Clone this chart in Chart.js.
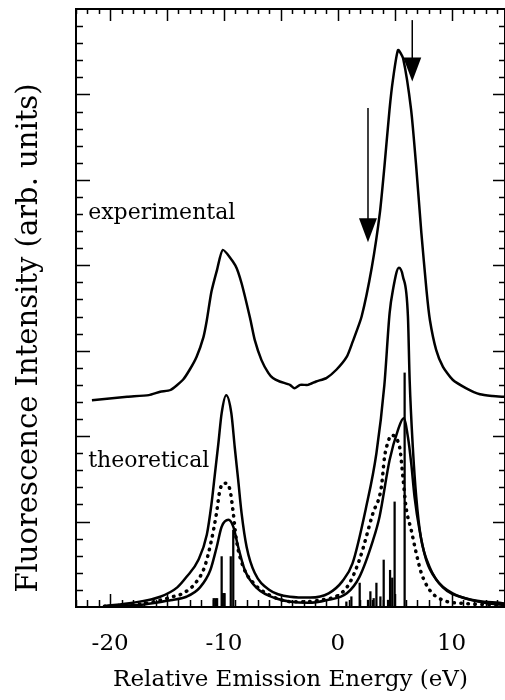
<!DOCTYPE html>
<html>
<head>
<meta charset="utf-8">
<script src="https://cdn.jsdelivr.net/npm/chart.js@4.4.1/dist/chart.umd.min.js"></script>
<style>
  html, body { margin: 0; padding: 0; background: #fff; }
</style>
</head>
<body>
<canvas id="spectrum" width="505" height="700"></canvas>
<script>
// energies in eV, intensities in arbitrary units
const experimental = [
  [-21.6, 2.42], [-18.5, 2.46], [-16.6, 2.48], [-15.6, 2.52], [-14.7, 2.54], [-13.6, 2.66],
  [-13.0, 2.78], [-12.4, 2.93], [-11.8, 3.16], [-11.5, 3.36], [-11.1, 3.69], [-10.6, 3.95],
  [-10.1, 4.18], [-9.0, 4.0], [-8.45, 3.79], [-7.7, 3.38], [-7.3, 3.13], [-6.7, 2.89],
  [-6.1, 2.74], [-5.7, 2.68], [-5.1, 2.64], [-4.2, 2.6], [-3.8, 2.56], [-3.3, 2.6],
  [-2.6, 2.6], [-1.9, 2.64], [-1.0, 2.68], [-0.1, 2.78], [0.8, 2.93], [1.3, 3.1],
  [2.1, 3.4], [3.0, 3.98], [3.7, 4.61], [4.1, 5.15], [4.55, 5.82], [4.85, 6.17],
  [5.3, 6.52], [5.75, 6.42], [6.45, 5.82], [6.9, 5.15], [7.35, 4.38], [7.8, 3.71],
  [8.1, 3.36], [8.65, 3.01], [9.25, 2.81], [10.1, 2.66], [11.3, 2.56], [12.5, 2.49],
  [13.6, 2.47], [14.7, 2.46]
];

const theoryBroad = [
  [-20.5, 0.01], [-18, 0.05], [-15.6, 0.12], [-14.1, 0.23], [-13.3, 0.35], [-12.25, 0.55],
  [-11.5, 0.85], [-11.1, 1.2], [-10.8, 1.55], [-10.5, 1.9], [-10.2, 2.27], [-9.8, 2.48],
  [-9.35, 2.27], [-9.05, 1.87], [-8.75, 1.49], [-8.45, 1.1], [-8.0, 0.7], [-7.3, 0.4],
  [-6.0, 0.2], [-4.2, 0.12], [-2.4, 0.11], [-0.8, 0.16], [0.4, 0.3], [1.3, 0.51],
  [2.5, 1.17], [3.4, 1.8], [4.1, 2.6], [4.56, 3.44], [4.85, 3.71], [5.38, 3.97],
  [5.73, 3.87], [6.17, 3.4], [6.32, 2.66], [6.6, 1.87], [6.9, 1.29], [7.3, 0.82],
  [8.07, 0.47], [9.24, 0.23], [11.3, 0.1], [14.7, 0.04]
];

const theoryDotted = [
  [-20.5, 0.01], [-17, 0.04], [-15.6, 0.08], [-14.5, 0.12], [-13.6, 0.16], [-12.5, 0.28],
  [-11.7, 0.47], [-11.1, 0.78], [-10.65, 1.1], [-10.35, 1.37], [-9.9, 1.45], [-9.47, 1.37],
  [-9.18, 1.1], [-8.9, 0.78], [-8.3, 0.47], [-7.4, 0.28], [-6.0, 0.14], [-3.9, 0.06],
  [-1.6, 0.08], [0.8, 0.23], [1.9, 0.55], [3.1, 1.1], [3.83, 1.4], [4.12, 1.76],
  [4.42, 1.93], [4.7, 2.01], [5.44, 1.87], [5.73, 1.52], [6.0, 1.17], [6.46, 0.9],
  [6.9, 0.63], [7.34, 0.4], [8.07, 0.2], [9.24, 0.08], [11.3, 0.04], [14.7, 0.02]
];

const theoryNarrow = [
  [-20.5, 0.01], [-17, 0.03], [-14.7, 0.08], [-13.3, 0.12], [-12.1, 0.23], [-11.2, 0.43],
  [-10.64, 0.7], [-10.2, 0.94], [-9.6, 1.02], [-9.18, 0.94], [-8.74, 0.7], [-8.16, 0.43],
  [-7.1, 0.22], [-5.4, 0.1], [-2.6, 0.05], [-1.0, 0.08], [0.8, 0.16], [1.9, 0.35],
  [3.1, 0.78], [3.68, 1.06], [4.56, 1.72], [5.29, 2.07], [5.79, 2.21], [6.17, 1.99],
  [6.46, 1.68], [6.75, 1.29], [7.19, 0.9], [7.78, 0.55], [8.66, 0.32], [10.1, 0.16],
  [12.46, 0.06], [14.7, 0.02]
];

// calculated transitions (stick spectrum)
const stickEnergies = [-10.9, -10.75, -10.6, -10.2, -10.1, -9.95, -9.4, -9.18,
  0.76, 1.2, 1.93, 2.66, 2.87, 3.16, 3.4, 3.75, 4.04, 4.42, 4.6, 4.79, 5.0, 5.88];
const stickHeights = [0.1, 0.1, 0.1, 0.59, 0.16, 0.16, 0.59, 0.9,
  0.06, 0.12, 0.28, 0.08, 0.18, 0.1, 0.28, 0.12, 0.55, 0.08, 0.43, 0.34, 1.23, 2.74];

const xTickValues = [-20, -10, 0, 10];

const toPoints = arr => arr.map(p => ({ x: p[0], y: p[1] }));

const curveStyle = {
  type: 'line',
  borderColor: '#000',
  borderWidth: 2.5,
  pointRadius: 0,
  fill: false,
  cubicInterpolationMode: 'monotone'
};

// inward ticks on all four sides plus the box
const frameTicks = {
  id: 'frameTicks',
  afterDatasetsDraw(chart) {
    const { ctx, chartArea: a, scales: { x, y } } = chart;
    ctx.save();
    ctx.strokeStyle = '#000';
    ctx.lineWidth = 2;
    ctx.strokeRect(a.left, a.top, a.right - a.left, a.bottom - a.top);
    ctx.lineWidth = 1.5;
    ctx.beginPath();
    for (let v = Math.ceil(x.min); v <= x.max; v++) {
      const px = Math.round(x.getPixelForValue(v)) + 0.5;
      const major = v % 5 === 0;
      ctx.moveTo(px, a.bottom);
      ctx.lineTo(px, a.bottom - (major ? 13 : 7));
      ctx.moveTo(px, a.top);
      ctx.lineTo(px, a.top + (major ? 12 : 5));
    }
    for (let i = 1; i < 35; i++) {
      const py = Math.round(y.getPixelForValue(i * 0.2)) + 0.5;
      const major = i % 5 === 0;
      ctx.moveTo(a.left, py);
      ctx.lineTo(a.left + (major ? 14 : 7), py);
      ctx.moveTo(a.right, py);
      ctx.lineTo(a.right - (major ? 12 : 6), py);
    }
    ctx.stroke();
    ctx.restore();
  }
};

// arrows and curve labels placed in data coordinates
const arrows = [
  { x: 2.66, from: 5.84, to: 4.27 },
  { x: 6.55, from: 6.87, to: 6.15 }
];
const curveLabels = [
  { text: 'experimental', x: -21.93, y: 4.61 },
  { text: 'theoretical', x: -21.93, y: 1.70 }
];

const annotations = {
  id: 'annotations',
  afterDatasetsDraw(chart) {
    const { ctx, scales: { x, y } } = chart;
    ctx.save();
    ctx.fillStyle = '#000';
    ctx.strokeStyle = '#000';
    arrows.forEach(ar => {
      const px = x.getPixelForValue(ar.x);
      const top = y.getPixelForValue(ar.from);
      const tip = y.getPixelForValue(ar.to);
      ctx.lineWidth = 1.5;
      ctx.beginPath();
      ctx.moveTo(px, top);
      ctx.lineTo(px, tip - 20);
      ctx.stroke();
      ctx.beginPath();
      ctx.moveTo(px - 9, tip - 24);
      ctx.lineTo(px + 9, tip - 24);
      ctx.lineTo(px, tip);
      ctx.closePath();
      ctx.fill();
    });
    ctx.font = '22px "DejaVu Serif"';
    ctx.textAlign = 'left';
    ctx.textBaseline = 'middle';
    curveLabels.forEach(l => {
      ctx.fillText(l.text, x.getPixelForValue(l.x), y.getPixelForValue(l.y));
    });
    // y axis title
    ctx.translate(29, 338);
    ctx.rotate(-Math.PI / 2);
    ctx.textAlign = 'center';
    ctx.font = '29px "DejaVu Serif"';
    ctx.fillText('Fluorescence Intensity (arb. units)', 0, 0);
    ctx.restore();
  }
};

Chart.defaults.font.family = '"DejaVu Serif", serif';
Chart.defaults.color = '#000';

new Chart(document.getElementById('spectrum'), {
  type: 'line',
  data: {
    datasets: [
      { ...curveStyle, label: 'experimental', data: toPoints(experimental),
        cubicInterpolationMode: 'default', tension: 0.2 },
      { ...curveStyle, label: 'theoretical', data: toPoints(theoryBroad) },
      { ...curveStyle, label: 'theoretical (dotted)', data: toPoints(theoryDotted),
        borderWidth: 3.5, borderDash: [0.5, 6.5], borderCapStyle: 'round' },
      { ...curveStyle, label: 'theoretical (narrow)', data: toPoints(theoryNarrow) },
      {
        type: 'bar',
        label: 'transitions',
        data: stickEnergies.map((e, i) => ({ x: e, y: stickHeights[i] })),
        backgroundColor: '#000',
        barThickness: 1.6,
        grouped: false
      }
    ]
  },
  options: {
    responsive: false,
    animation: false,
    layout: { padding: { top: 9, left: 0, right: -1, bottom: 0 } },
    plugins: { legend: { display: false }, tooltip: { enabled: false } },
    scales: {
      x: {
        type: 'linear',
        min: -23,
        max: 14.7,
        offset: false,
        grid: { display: false },
        border: { display: false },
        afterBuildTicks: scale => { scale.ticks = xTickValues.map(v => ({ value: v })); },
        afterFit: scale => { scale.height = 93; },
        ticks: { font: { size: 23 }, padding: 15, color: '#000' },
        title: {
          display: true,
          text: 'Relative Emission Energy (eV)',
          font: { size: 23 },
          padding: { top: 0, bottom: 6 },
          color: '#000'
        }
      },
      y: {
        type: 'linear',
        min: 0,
        max: 7,
        grid: { display: false },
        border: { display: false },
        ticks: { display: false },
        afterFit: scale => { scale.width = 76; }
      }
    }
  },
  plugins: [frameTicks, annotations]
});
</script>
</body>
</html>
